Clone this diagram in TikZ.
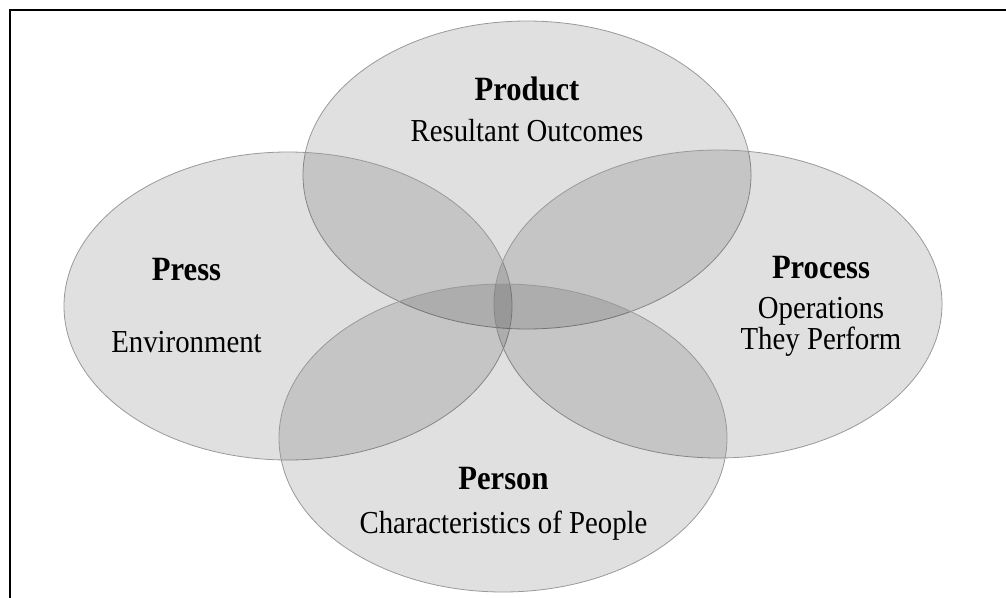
\documentclass[tikz,border=0pt]{standalone}
\usepackage{fontspec}
\setmainfont{Liberation Serif}
\newfontfamily\tallserif[FakeStretch=0.9]{Liberation Serif}
\usetikzlibrary{shapes.geometric}
\tikzset{
  petal/.style={ellipse, draw=black!40, line width=0.8pt, fill=black, fill opacity=0.12, draw opacity=1,
    minimum width=448pt, minimum height=308pt, inner sep=0pt},
  title/.style={anchor=base, font=\tallserif\fontsize{34}{36}\selectfont\bfseries, inner sep=0pt},
  sub/.style={anchor=base, font=\tallserif\fontsize{32}{34}\selectfont, inner sep=0pt},
}
\begin{document}
\begin{tikzpicture}[x=1pt,y=-1pt]
\useasboundingbox (0,0) rectangle (1006,597);
\begin{scope}
\clip (0,0) rectangle (1006,597);
\draw[line width=2.2pt] (10,10) rectangle (1020,620);
\end{scope}
\node[petal] (product) at (527,175) {};
\node[petal] (press) at (288,306) {};
\node[petal] (process) at (718,304) {};
\node[petal] (person) at (503,438) {};
\node[title] (tproduct) at (527,100) {Product};
\node[sub] (sproduct) at (527,141.5) {Resultant Outcomes};
\node[title] (tpress) at (186.5,280) {Press};
\node[sub] (spress) at (186.5,352) {Environment};
\node[title] (tprocess) at (821,278) {Process};
\node[sub] (sprocess1) at (821,318.5) {Operations};
\node[sub] (sprocess2) at (821,349.5) {They Perform};
\node[title] (tperson) at (503.5,489) {Person};
\node[sub] (sperson) at (503.5,533) {Characteristics of People};
\end{tikzpicture}
\end{document}
